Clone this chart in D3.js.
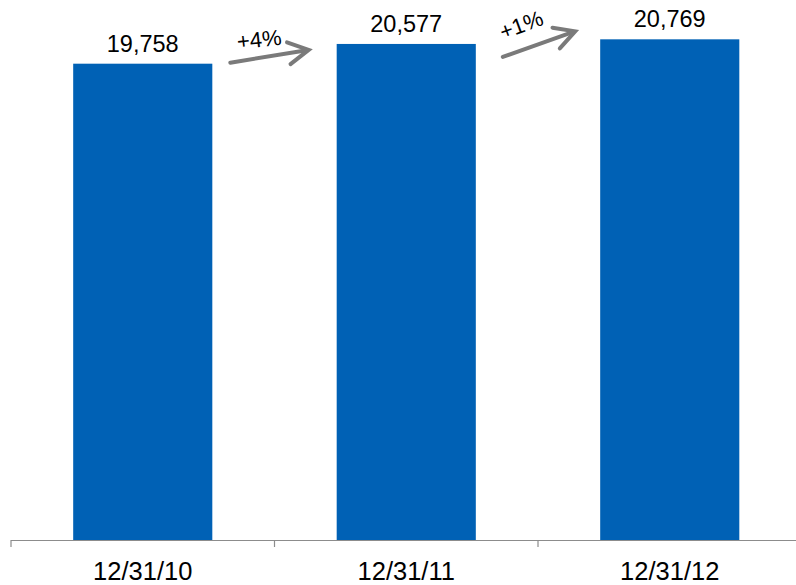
<!DOCTYPE html>
<html>
<head>
<meta charset="utf-8">
<script src="https://cdn.jsdelivr.net/npm/d3@7"></script>
<style>
  html, body { margin: 0; padding: 0; background: #fff; }
  svg { display: block; font-family: Arial, "Liberation Sans", sans-serif; }
</style>
</head>
<body>
<svg id="chart" width="796" height="585"></svg>
<script>
const categories = ["12/31/10", "12/31/11", "12/31/12"];
const values = [19758, 20577, 20769];
const growthLabels = ["+4%", "+1%"];

const svg = d3.select("#chart");
const baseY = 540;

const x = d3.scaleBand()
  .domain(categories)
  .range([11, 801.5])
  .paddingInner(0.472)
  .paddingOuter(0.236);

const y = d3.scaleLinear()
  .domain([0, 22400])
  .range([baseY, 0]);

// bars
svg.selectAll("rect.bar")
  .data(categories)
  .join("rect")
  .attr("class", "bar")
  .attr("x", d => x(d))
  .attr("width", x.bandwidth())
  .attr("y", (d, i) => y(values[i]))
  .attr("height", (d, i) => baseY - y(values[i]))
  .attr("fill", "#0061b5");

// value labels
svg.selectAll("text.val")
  .data(categories)
  .join("text")
  .attr("class", "val")
  .attr("x", d => x(d) + x.bandwidth() / 2)
  .attr("y", (d, i) => y(values[i]) - 12)
  .attr("text-anchor", "middle")
  .attr("font-size", 23.5)
  .attr("fill", "#000")
  .text((d, i) => d3.format(",")(values[i]));

// axis line + ticks at band boundaries
const axisColor = "#8c8c8c";
svg.append("line")
  .attr("x1", 11).attr("x2", 796)
  .attr("y1", baseY + 0.5).attr("y2", baseY + 0.5)
  .attr("stroke", axisColor).attr("stroke-width", 1.2);

const step = x.step();
const boundaries = categories.map(d => x(d) - x.paddingOuter() * step);
svg.selectAll("line.tick")
  .data(boundaries)
  .join("line")
  .attr("class", "tick")
  .attr("x1", d => d).attr("x2", d => d)
  .attr("y1", baseY).attr("y2", baseY + 7)
  .attr("stroke", axisColor).attr("stroke-width", 1.2);

// category labels
svg.selectAll("text.cat")
  .data(categories)
  .join("text")
  .attr("class", "cat")
  .attr("x", d => x(d) + x.bandwidth() / 2)
  .attr("y", 580)
  .attr("text-anchor", "middle")
  .attr("font-size", 25.5)
  .attr("fill", "#000")
  .text(d => d);

// growth arrows (annotation placement relative to bars)
const arrowColor = "#7a7a7a";
const arrows = [
  { x1: x(categories[0]) + x.bandwidth() + 18, y1: y(values[0]) - 1,
    x2: x(categories[1]) - 28, y2: y(values[1]) + 6,
    tx: 260, ty: 47, rot: -6 },
  { x1: x(categories[1]) + x.bandwidth() + 27, y1: y(values[1]) + 13,
    x2: x(categories[2]) - 25, y2: y(values[2]) - 8,
    tx: 524, ty: 32, rot: -20 }
];

arrows.forEach((a, i) => {
  const ang = Math.atan2(a.y2 - a.y1, a.x2 - a.x1);
  const headLen = 23, headAng = 0.5;
  svg.append("line")
    .attr("x1", a.x1).attr("y1", a.y1)
    .attr("x2", a.x2 - 2 * Math.cos(ang)).attr("y2", a.y2 - 2 * Math.sin(ang))
    .attr("stroke", arrowColor).attr("stroke-width", 4)
    .attr("stroke-linecap", "round");
  const p1 = [a.x2 - headLen * Math.cos(ang - headAng), a.y2 - headLen * Math.sin(ang - headAng)];
  const p2 = [a.x2 - headLen * Math.cos(ang + headAng), a.y2 - headLen * Math.sin(ang + headAng)];
  svg.append("path")
    .attr("d", `M${p1[0]},${p1[1]}L${a.x2},${a.y2}L${p2[0]},${p2[1]}`)
    .attr("fill", "none")
    .attr("stroke", arrowColor).attr("stroke-width", 4)
    .attr("stroke-linecap", "round").attr("stroke-linejoin", "miter");
  svg.append("text")
    .attr("transform", `translate(${a.tx},${a.ty}) rotate(${a.rot})`)
    .attr("text-anchor", "middle")
    .attr("font-size", 22)
    .attr("fill", "#000")
    .text(growthLabels[i]);
});
</script>
</body>
</html>
